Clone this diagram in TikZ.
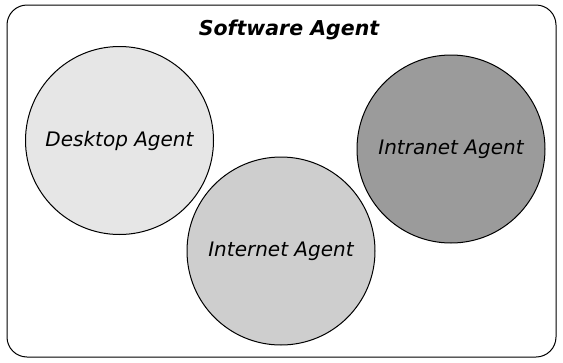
\documentclass[tikz,border=0pt]{standalone}
\usepackage{fontspec}
\setmainfont{DejaVu Sans}
\definecolor{cDesk}{HTML}{E6E6E6}
\definecolor{cNet}{HTML}{CECECE}
\definecolor{cIntra}{HTML}{9B9B9B}
\begin{document}
\begin{tikzpicture}[x=1pt,y=-1pt,
  agent/.style={circle,draw=black,line width=1pt,minimum size=188pt,inner sep=0pt,font=\fontsize{20}{24}\selectfont\itshape},
  frame/.style={draw=black,line width=1pt,rounded corners=20pt}]
\useasboundingbox (0,0) rectangle (563,362);
\draw[frame] (7,5) rectangle (556,357);
\node[font=\fontsize{20.5}{24}\selectfont\bfseries\itshape] (title) at (289,30) {Software Agent};
\node[agent,fill=cDesk] (desk) at (119.5,140.5) {Desktop Agent};
\node[agent,fill=cNet] (net) at (281,251) {Internet Agent};
\node[agent,fill=cIntra] (intra) at (451,149) {Intranet Agent};
\end{tikzpicture}
\end{document}
